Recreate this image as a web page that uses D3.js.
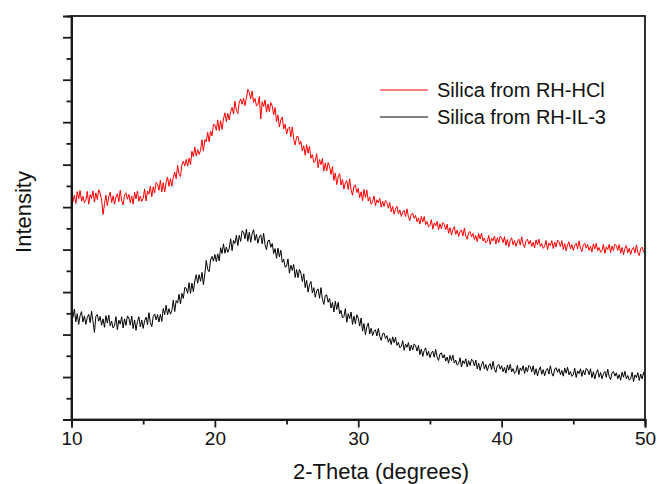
<!DOCTYPE html>
<html>
<head>
<meta charset="utf-8">
<script src="https://cdn.jsdelivr.net/npm/d3@7"></script>
<style>
  html, body { margin: 0; padding: 0; background: #fff; }
  svg { display: block; font-family: "Liberation Sans", Arial, sans-serif; }
</style>
</head>
<body>
<svg id="chart"></svg>
<script>
// 2-Theta sampling grid (degrees), one point every 0.1 deg
const twoTheta = d3.range(0, 401).map(i => 10 + i / 10);

// Silica from RH-HCl (counts, a.u.), one row per degree
const silicaHCl = [
  1065, 1025, 1056, 1017, 1073, 1039, 1078, 1028, 1051, 1020,
  1032, 1074, 1014, 1059, 1041, 1076, 1023, 1067, 1036, 1082,
  1066, 1033, 965, 1016, 1056, 1007, 1049, 1070, 1022, 1053,
  1014, 1048, 1063, 1025, 1080, 1030, 1011, 1058, 1067, 1037,
  1060, 1021, 1052, 1014, 1070, 1039, 1076, 1027, 1052, 1027,
  1041, 1086, 1029, 1076, 1061, 1099, 1049, 1096, 1067, 1116,
  1108, 1079, 1126, 1071, 1115, 1071, 1117, 1142, 1098, 1134,
  1099, 1141, 1164, 1134, 1197, 1155, 1144, 1199, 1216, 1194,
  1225, 1193, 1231, 1200, 1263, 1237, 1283, 1241, 1271, 1248,
  1267, 1317, 1265, 1318, 1308, 1352, 1307, 1359, 1336, 1390,
  1387, 1362, 1411, 1360, 1407, 1366, 1415, 1444, 1403, 1442,
  1410, 1450, 1470, 1438, 1499, 1455, 1441, 1494, 1509, 1484,
  1513, 1478, 1513, 1555, 1540, 1510, 1547, 1493, 1512, 1476,
  1484, 1521, 1415, 1497, 1474, 1505, 1447, 1486, 1450, 1492,
  1476, 1435, 1469, 1402, 1434, 1377, 1411, 1424, 1368, 1391,
  1344, 1370, 1377, 1331, 1378, 1320, 1293, 1332, 1333, 1295,
  1310, 1264, 1289, 1244, 1294, 1254, 1286, 1230, 1247, 1210,
  1216, 1252, 1186, 1224, 1200, 1229, 1170, 1208, 1170, 1210,
  1193, 1154, 1191, 1126, 1161, 1106, 1142, 1158, 1104, 1130,
  1085, 1115, 1125, 1083, 1134, 1080, 1056, 1099, 1104, 1069,
  1088, 1045, 1072, 1030, 1083, 1046, 1081, 1028, 1048, 1013,
  1026, 1053, 1007, 1035, 1020, 1041, 1000, 1028, 1003, 1031,
  1021, 995, 1021, 978, 1003, 966, 992, 1004, 968, 987,
  956, 977, 985, 956, 992, 954, 937, 967, 972, 947,
  961, 931, 949, 920, 956, 930, 956, 918, 932, 907,
  913, 941, 896, 925, 911, 933, 893, 922, 898, 927,
  918, 893, 920, 877, 903, 868, 895, 908, 872, 892,
  862, 884, 893, 864, 901, 865, 849, 880, 885, 861,
  876, 847, 866, 838, 875, 850, 877, 840, 855, 831,
  838, 867, 824, 854, 841, 864, 826, 856, 833, 864,
  856, 833, 861, 820, 848, 813, 842, 856, 822, 843,
  815, 838, 849, 821, 860, 824, 810, 842, 849, 826,
  843, 815, 835, 808, 846, 822, 849, 815, 829, 806,
  814, 843, 801, 831, 819, 842, 805, 835, 813, 844,
  837, 814, 842, 801, 828, 794, 823, 837, 803, 824,
  796, 820, 830, 803, 841, 805, 791, 823, 830, 807,
  824, 796, 816, 789, 827, 803, 830, 795, 810, 787,
  795, 825, 782, 813, 800, 824, 786, 817, 795, 826,
  819, 796, 824, 783, 810, 776, 805, 819, 785, 806,
  777, 801, 811, 784, 822, 786, 772, 804, 812, 789,
  795
];

// Silica from RH-IL-3 (counts, a.u.)
const silicaIL3 = [
  514, 480, 520, 460, 498, 448, 489, 508, 459, 488,
  448, 481, 495, 456, 510, 460, 410, 486, 494, 463,
  485, 444, 474, 434, 489, 454, 492, 441, 463, 431,
  442, 484, 423, 468, 449, 484, 431, 474, 443, 488,
  477, 444, 487, 428, 469, 420, 462, 484, 436, 468,
  429, 465, 482, 446, 503, 455, 437, 486, 497, 469,
  494, 459, 495, 462, 523, 494, 538, 493, 522, 496,
  513, 562, 508, 560, 548, 590, 544, 594, 570, 622,
  618, 594, 644, 594, 642, 602, 652, 682, 642, 682,
  651, 693, 635, 686, 749, 707, 696, 751, 768, 746,
  777, 743, 780, 747, 809, 782, 827, 783, 812, 787,
  805, 851, 795, 843, 829, 868, 819, 867, 839, 889,
  882, 851, 896, 839, 882, 835, 875, 894, 843, 872,
  830, 859, 870, 827, 877, 823, 799, 841, 845, 811,
  829, 782, 805, 759, 807, 766, 797, 740, 755, 717,
  721, 756, 689, 727, 702, 730, 669, 706, 668, 707,
  689, 650, 686, 621, 655, 600, 635, 650, 596, 621,
  576, 605, 615, 571, 621, 566, 542, 584, 587, 552,
  570, 525, 551, 506, 557, 518, 552, 497, 514, 478,
  485, 522, 458, 498, 475, 506, 448, 487, 451, 493,
  477, 440, 478, 416, 452, 399, 437, 454, 403, 430,
  395, 416, 423, 393, 429, 391, 373, 403, 407, 381,
  395, 364, 382, 353, 389, 362, 387, 349, 363, 338,
  343, 371, 326, 355, 340, 362, 323, 351, 327, 356,
  347, 322, 349, 306, 332, 297, 324, 337, 301, 321,
  291, 313, 322, 293, 330, 294, 278, 309, 314, 290,
  305, 275, 294, 265, 302, 277, 303, 266, 280, 256,
  262, 291, 247, 277, 263, 286, 248, 277, 254, 284,
  276, 252, 280, 238, 265, 231, 259, 273, 238, 259,
  230, 253, 263, 235, 273, 237, 222, 254, 260, 237,
  253, 225, 245, 218, 257, 232, 260, 224, 240, 217,
  225, 255, 212, 243, 230, 253, 217, 246, 225, 255,
  248, 225, 253, 211, 239, 205, 232, 248, 213, 235,
  206, 230, 241, 214, 253, 218, 204, 237, 244, 222,
  239, 211, 231, 204, 242, 218, 246, 210, 226, 203,
  211, 241, 198, 229, 216, 239, 203, 232, 210, 241,
  234, 211, 239, 197, 225, 191, 220, 235, 199, 221,
  192, 216, 226, 199, 237, 202, 188, 220, 226, 204,
  220, 192, 212, 185, 223, 199, 227, 192, 207, 185,
  192, 222, 178, 210, 197, 221, 184, 214, 191, 222,
  198
];

// Axis ticks
const xMajorTicks = [10, 20, 30, 40, 50];
const xMinorTicks = [15, 25, 35, 45];
const yMajorTicks = [0, 200, 400, 600, 800, 1000, 1200, 1400, 1600, 1800];
const yMinorTicks = [100, 300, 500, 700, 900, 1100, 1300, 1500, 1700];

const seriesNames = ["Silica from RH-HCl", "Silica from RH-IL-3"];
const seriesColors = ["#ff0000", "#000000"];

// Canvas
const width = 657, height = 484;
const margin = { top: 16, right: 12, bottom: 64.5, left: 71.5 };
const plotW = width - margin.left - margin.right;
const plotH = height - margin.top - margin.bottom;

const svg = d3.select("#chart").attr("width", width).attr("height", height);

const x = d3.scaleLinear().domain([10, 50]).range([margin.left, margin.left + plotW]);
const y = d3.scaleLinear().domain([0, 1900]).range([margin.top + plotH, margin.top]);

// Data lines
const line = d3.line()
  .x((d, i) => x(twoTheta[i]))
  .y(d => y(d));

[silicaHCl, silicaIL3].forEach((series, k) => {
  svg.append("path")
    .datum(series)
    .attr("fill", "none")
    .attr("stroke", seriesColors[k])
    .attr("stroke-width", 1)
    .attr("d", line);
});

// Frame (top and right)
svg.append("rect")
  .attr("x", margin.left)
  .attr("y", margin.top)
  .attr("width", plotW)
  .attr("height", plotH)
  .attr("fill", "none")
  .attr("stroke", "#1a1a1a")
  .attr("stroke-width", 1.8);

// X axis with major / minor ticks
const xAxisG = svg.append("g").attr("transform", `translate(0,${margin.top + plotH})`);
xAxisG.append("g")
  .call(d3.axisBottom(x).tickValues(xMajorTicks).tickSize(8).tickPadding(4).tickFormat(d3.format("d")));
xAxisG.append("g")
  .call(d3.axisBottom(x).tickValues(xMinorTicks).tickSize(5).tickFormat(""));

// Y axis, ticks only (no labels)
const yAxisG = svg.append("g").attr("transform", `translate(${margin.left},0)`);
yAxisG.append("g").call(d3.axisLeft(y).tickValues(yMajorTicks).tickSize(8.5).tickFormat(""));
yAxisG.append("g").call(d3.axisLeft(y).tickValues(yMinorTicks).tickSize(5).tickFormat(""));

svg.selectAll(".domain").attr("stroke", "#1a1a1a").attr("stroke-width", 1.8);
svg.selectAll(".tick line").attr("stroke", "#1a1a1a").attr("stroke-width", 1.8);
xAxisG.selectAll(".tick text")
  .attr("font-size", "19px")
  .attr("fill", "#111")
  .attr("font-family", "'Liberation Sans', Arial, sans-serif");

// Axis titles
svg.append("text")
  .attr("x", 381)
  .attr("y", 479)
  .attr("text-anchor", "middle")
  .attr("font-size", "22px")
  .attr("fill", "#111")
  .text("2-Theta (degrees)");

svg.append("text")
  .attr("transform", "translate(31,212) rotate(-90)")
  .attr("text-anchor", "middle")
  .attr("font-size", "22px")
  .attr("fill", "#111")
  .text("Intensity");

// Legend
const legend = svg.append("g").attr("transform", "translate(380,90)");
seriesNames.forEach((name, k) => {
  const row = legend.append("g").attr("transform", `translate(0,${k * 27})`);
  row.append("line")
    .attr("x1", 0).attr("x2", 48)
    .attr("y1", 0).attr("y2", 0)
    .attr("stroke", seriesColors[k])
    .attr("stroke-width", 1);
  row.append("text")
    .attr("x", 57)
    .attr("y", 7)
    .attr("font-size", "20px")
    .attr("fill", "#111")
    .text(name);
});
</script>
</body>
</html>
